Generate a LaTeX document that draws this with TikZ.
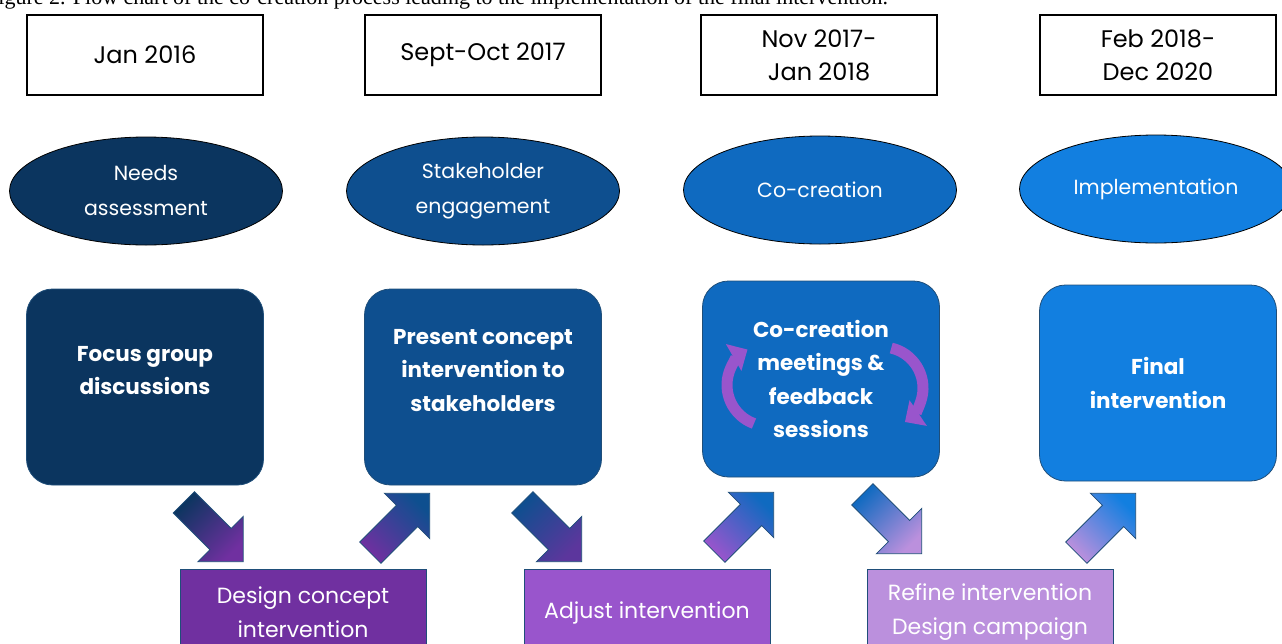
\documentclass[tikz,border=0pt]{standalone}
\usepackage{fontspec}
\setmainfont{Poppins}
\newfontfamily\capfont{Liberation Serif}
\usetikzlibrary{shapes.geometric,arrows.meta}
\definecolor{navyA}{HTML}{0B355F}
\definecolor{blueB}{HTML}{0E4F8F}
\definecolor{blueC}{HTML}{0F6AC0}
\definecolor{blueD}{HTML}{127FE0}
\definecolor{purpA}{HTML}{7030A0}
\definecolor{purpB}{HTML}{9955CC}
\definecolor{purpC}{HTML}{BB90DD}
\definecolor{edgeblue}{HTML}{1F4E79}
\begin{document}
\begin{tikzpicture}[x=1pt,y=1pt,
  datebox/.style={draw=black,line width=1.2pt,minimum width=236pt,minimum height=80pt,
    align=center,font=\fontsize{24}{33}\selectfont},
  phase/.style={ellipse,draw=black,line width=.8pt,minimum width=273pt,minimum height=108pt,
    inner sep=0pt,align=center,text=white,font=\fontsize{20.5}{35}\selectfont},
  stepbox/.style={rectangle,rounded corners=26pt,draw=edgeblue,line width=.8pt,
    minimum width=237pt,minimum height=196pt,align=center,text=white,
    font=\bfseries\fontsize{21.5}{33.5}\selectfont},
  lowbox/.style={rectangle,draw=edgeblue,line width=1pt,minimum width=246pt,minimum height=86pt,
    anchor=north,align=center,text=white,font=\fontsize{22}{34}\selectfont},
  pics/blockarrow/.style={code={
    \path[pic actions] (-42,-15) -- (10,-15) -- (10,-32) -- (42,0) -- (10,32) -- (10,15) -- (-42,15) -- cycle;}},
  downarrow/.style={draw=edgeblue,line width=.8pt,rotate=-45},
  uparrow/.style={draw=edgeblue,line width=.8pt,rotate=45},
  cycle/.style={purpB,line width=11pt,-{Triangle[width=30pt,length=16pt]}}]
	\useasboundingbox (0,-643) rectangle (1282,0);
	
	% caption, cut at the top
	\node[anchor=base west,inner sep=0pt,font=\capfont\fontsize{22}{22}\selectfont] (cap) at (-14,-4)
		{Figure 2. Flow chart of the co-creation process leading to the implementation of the final intervention.};
	
	% dates
	\node[datebox] (d1) at (145,-55) {Jan 2016};
	\node[datebox] (d2) at (483,-55) {Sept-Oct 2017};
	\node[datebox] (d3) at (819,-55) {Nov 2017-\\Jan 2018};
	\node[datebox] (d4) at (1158,-55) {Feb 2018-\\Dec 2020};
	
	% phases
	\node[phase,fill=navyA] (p1) at (146,-191) {Needs\\assessment};
	\node[phase,fill=blueB] (p2) at (483,-191) {Stakeholder\\engagement};
	\node[phase,fill=blueC] (p3) at (820,-190) {Co-creation};
	\node[phase,fill=blueD] (p4) at (1156,-189) {Implementation};
	
	% steps
	\node[stepbox,fill=navyA] (s1) at (145,-387) {Focus group\\discussions\\};
	\node[stepbox,fill=blueB] (s2) at (483,-387) {Present concept\\intervention to\\stakeholders\\};
	\node[stepbox,fill=blueC] (s3) at (821,-379) {Co-creation\\meetings \&\\feedback\\sessions};
	\node[stepbox,fill=blueD] (s4) at (1158,-383) {Final\\intervention};
	
	\draw[cycle] (768,-385) ++(250:41) arc[start angle=250,end angle=120,radius=41];
	\draw[cycle] (882,-388) ++(77:41) arc[start angle=77,end angle=-56,radius=41];
	
	% design work
	\node[lowbox,fill=purpA] (w1) at (303,-569) {Design concept\\intervention};
	\node[lowbox,fill=purpB] (w2) at (647,-569) {Adjust intervention};
	\node[lowbox,fill=purpC] (w3) at (990,-569) {Refine intervention\\Design campaign};
	
	% block arrows
	\pic[downarrow,top color=navyA,bottom color=purpA,shading angle=45] (a1) at (213.5,-532) {blockarrow};
	\pic[uparrow,top color=blueB,bottom color=purpA,shading angle=-45] (a2) at (400,-523) {blockarrow};
	\pic[downarrow,top color=blueB,bottom color=purpA!80!blueB,shading angle=45] (a3) at (552,-532) {blockarrow};
	\pic[uparrow,top color=blueC,bottom color=purpB,shading angle=-45] (a4) at (744,-522) {blockarrow};
	\pic[downarrow,top color=blueC,bottom color=purpC,shading angle=45] (a5) at (892,-524) {blockarrow};
	\pic[uparrow,top color=blueD,bottom color=purpC,shading angle=-45] (a6) at (1106,-523) {blockarrow};
\end{tikzpicture}
\end{document}
